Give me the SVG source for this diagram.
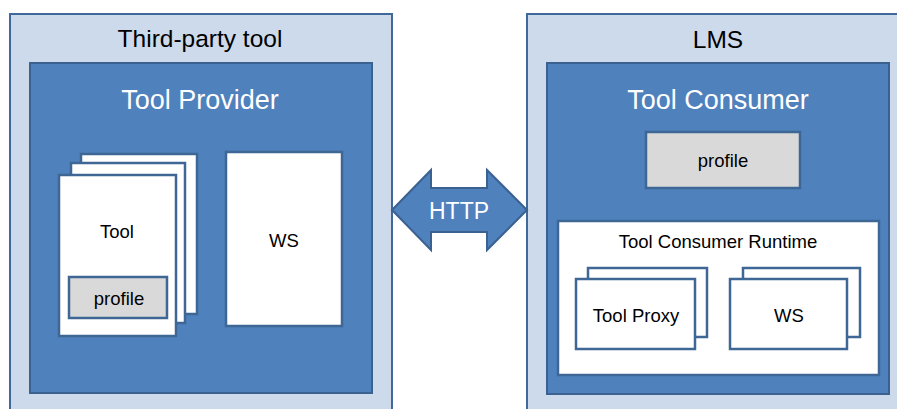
<svg xmlns="http://www.w3.org/2000/svg" width="897" height="409" viewBox="0 0 897 409">
<style>
.outer{fill:#CCDAEB;stroke:#41689A;stroke-width:2}
.inner{fill:#4F81BD;stroke:#3A6190;stroke-width:2}
.card{fill:#FFFFFF;stroke:#3F6795;stroke-width:2.5}
.prof{fill:#D9D9D9;stroke:#3F6795;stroke-width:2.5}
text{font-family:"Liberation Sans",Arial,sans-serif;text-anchor:middle}
.t1{font-size:24.5px;fill:#000}
.t2{font-size:27px;fill:#FFFFFF}
.t3{font-size:18.5px;fill:#000}
</style>
<rect width="897" height="409" fill="#FFFFFF"/>
<g id="third-party-tool">
<rect class="outer" x="10" y="14" width="382" height="410"/>
<text class="t1" x="200" y="47">Third-party tool</text>
</g>
<g id="tool-provider">
<rect class="inner" x="30" y="63" width="342" height="330"/>
<text class="t2" x="200" y="109">Tool Provider</text>
</g>
<g id="tool">
<rect class="card" x="81" y="154" width="116" height="160"/>
<rect class="card" x="71" y="163" width="114" height="160"/>
<rect class="card" x="59" y="175" width="117" height="161"/>
<text class="t3" x="117" y="238">Tool</text>
</g>
<g id="tool-profile">
<rect class="prof" x="69" y="277" width="98" height="41"/>
<text class="t3" x="119" y="305">profile</text>
</g>
<g id="provider-ws">
<rect class="card" x="226" y="152" width="116" height="174"/>
<text class="t3" x="284" y="247">WS</text>
</g>
<g id="lms">
<rect class="outer" x="527" y="14" width="380" height="410"/>
<text class="t1" x="718" y="48">LMS</text>
</g>
<g id="tool-consumer">
<rect class="inner" x="547" y="63" width="342" height="331"/>
<text class="t2" x="718" y="109">Tool Consumer</text>
</g>
<g id="consumer-profile">
<rect class="prof" x="646" y="132" width="154" height="56"/>
<text class="t3" x="723" y="167">profile</text>
</g>
<g id="tool-consumer-runtime">
<rect class="card" x="558" y="221" width="321" height="154"/>
<text class="t3" x="718" y="248">Tool Consumer Runtime</text>
</g>
<g id="tool-proxy">
<rect class="card" x="588" y="268" width="119" height="69"/>
<rect class="card" x="576" y="279" width="119" height="70"/>
<text class="t3" x="636" y="322">Tool Proxy</text>
</g>
<g id="consumer-ws">
<rect class="card" x="743" y="268" width="117" height="69"/>
<rect class="card" x="730" y="279" width="117" height="70"/>
<text class="t3" x="789" y="322">WS</text>
</g>
<g id="connectors">
<polygon points="392,210 431,170 431,188 487,188 487,170 527,210 487,250 487,232 431,232 431,250" fill="#4F81BD" stroke="#3A6190" stroke-width="2" stroke-linejoin="miter"/>
<text x="459" y="219" style="font-size:23px;fill:#FFFFFF">HTTP</text>
</g>
</svg>
